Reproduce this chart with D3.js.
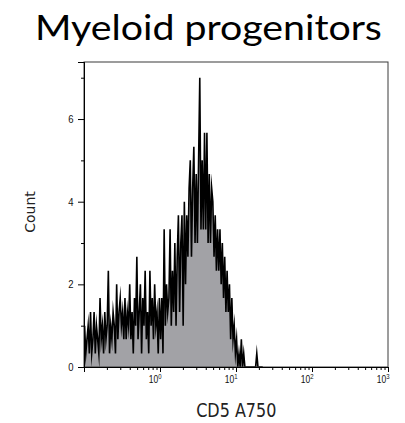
<!DOCTYPE html>
<html><head><meta charset="utf-8">
<script src="https://cdn.jsdelivr.net/npm/d3@7"></script>
<style>body{margin:0;background:#fff}</style></head>
<body>
<svg id="chart" width="405" height="423"></svg>
<script>
// ---------- data ----------
const titleText = "Myeloid progenitors";
const xLabelText = "CD5 A750";
const yLabelText = "Count";
const xDomain = [0.1, 1000];
const yDomain = [0, 7.38];
const binStartLog = -1;      // first histogram channel edge (log10)
const binsPerDecade = 64;    // channel resolution
// counts per channel
const counts = [
  1,0.33,0.67,1,0.33,1.33,0.33,0.67,1.33,0.33,
  1,0.67,0.33,1.67,0.67,1,0.33,1.33,0.67,1,
  2.33,0.33,1,0.67,1.33,1,0.33,2,0.67,1.33,
  1.67,1,1.33,0.67,1.67,0.67,1.33,1,2,0.67,
  1.33,0.33,1.67,1,2.67,0.67,1.33,2,0.33,1.67,
  1,2.33,0.67,1.33,0.33,2.33,1,1.67,0.67,2,
  1,1.33,0.33,1.67,0.67,1.67,0.33,3.33,1,2,
  1.33,1.67,3.33,1,2.33,1.33,3,1,2.67,3.67,
  1.33,3,3.67,1,4,2,3.67,2.67,4.33,5,
  2.67,4.33,5.33,3,4.67,3,5,7,3.33,5,
  3.33,5.67,3.33,5.67,3,4.67,3,4.33,4,2.67,
  3.67,2.33,3.33,2.33,3.33,2,3,1.67,2.67,1.33,
  2.33,1.33,2,0.67,1.67,0.67,1,0.33,0.67,0,
  0.33,0,0.67,0,0.33,0,0,0,0,0,
  0,0,0,0,0,0.33,0,0,0,0,0
];
const yMajorTicks = [0, 2, 4, 6];
const yMinorTicks = [1, 3, 5, 7];
const xMajorTicks = [1, 10, 100, 1000];
const xTickExponents = ["0", "1", "2", "3"];
const xMinorMultipliers = [2,3,4,5,6,7,8,9];
const xMinorDecades = [0.1, 1, 10, 100];

// ---------- layout ----------
const L = 84, R = 388, T = 62, B = 367;
const svg = d3.select("#chart");
const x = d3.scaleLog().domain(xDomain).range([L, R]);
const y = d3.scaleLinear().domain(yDomain).range([B, T]);

const pts = counts.map((c, i) => ({
  v: Math.pow(10, binStartLog + (i + 0.5) / binsPerDecade),
  c
}));

// area + line
const area = d3.area().x(d => x(d.v)).y0(y(0)).y1(d => y(d.c));
const line = d3.line().x(d => x(d.v)).y(d => y(d.c));
svg.append("clipPath").attr("id","pc").append("rect")
  .attr("x", L).attr("y", T).attr("width", R - L).attr("height", B - T);
const g = svg.append("g").attr("clip-path","url(#pc)");
g.append("path").datum(pts).attr("d", area).attr("fill", "#a2a2a6");
g.append("path").datum(pts).attr("d", line).attr("fill", "none")
  .attr("stroke", "#000").attr("stroke-width", 1.6).attr("stroke-linejoin","miter").attr("stroke-miterlimit", 20);

// frame
svg.append("rect").attr("x", L).attr("y", T).attr("width", R - L).attr("height", B - T)
  .attr("fill", "none").attr("stroke", "#3a3a3a").attr("stroke-width", 1);

// y axis
const yAx = svg.append("g").attr("transform", `translate(${L},0)`);
yAx.call(d3.axisLeft(y).tickValues(yMajorTicks).tickSize(6).tickFormat(""));
yAx.append("g").call(d3.axisLeft(y).tickValues(yMinorTicks).tickSize(3).tickFormat(""));
yAx.selectAll(".domain").attr("stroke", "#000");
yAx.selectAll("line").attr("stroke", "#000");
yMajorTicks.forEach(t => {
  svg.append("g").attr("transform", `translate(73.5,${y(t)}) scale(1,1.15)`)
    .append("text").attr("text-anchor", "end").attr("y", 3.4)
    .attr("font-family", "Liberation Sans, Arial, sans-serif").attr("font-size", 9.5)
    .attr("fill", "#111").text(t);
});

// x axis
const xAx = svg.append("g").attr("transform", `translate(0,${B})`);
xAx.call(d3.axisBottom(x).tickValues(xMajorTicks).tickSize(5).tickFormat(""));
const minor = [];
xMinorDecades.forEach(d => xMinorMultipliers.forEach(m => minor.push(d * m)));
xAx.append("g").call(d3.axisBottom(x).tickValues(minor).tickSize(3).tickFormat(""));
xAx.selectAll(".domain").attr("stroke", "#000");
xAx.selectAll("line").attr("stroke", "#000");
xMajorTicks.forEach((t, i) => {
  const tx = svg.append("g").attr("transform", `translate(${x(t) + 1.5},383) scale(1,1.2)`)
    .append("text").attr("text-anchor", "end")
    .attr("font-family", "Liberation Sans, Arial, sans-serif").attr("font-size", 8.5)
    .attr("fill", "#111");
  tx.append("tspan").text("10");
  tx.append("tspan").attr("font-size", 6).attr("dy", -3).text(xTickExponents[i]);
});

// axis titles
svg.append("g").attr("transform", "translate(236.3,417.3) scale(1,1.2)")
  .append("text").attr("text-anchor", "middle")
  .attr("font-family", "DejaVu Sans, Verdana, sans-serif").attr("font-size", 16)
  .attr("fill", "#222").text(xLabelText);
svg.append("text").attr("transform", "translate(35,212) rotate(-90)")
  .attr("text-anchor", "middle")
  .attr("font-family", "DejaVu Sans, Verdana, sans-serif").attr("font-size", 14)
  .attr("fill", "#222").text(yLabelText);

// title
svg.append("text").attr("x", 208.4).attr("y", 40).attr("text-anchor", "middle")
  .attr("font-family", "Lato, Carlito, Calibri, sans-serif").attr("font-size", 34)
  .attr("textLength", 347).attr("lengthAdjust", "spacingAndGlyphs")
  .attr("fill", "#000").text(titleText);
</script>
</body></html>
